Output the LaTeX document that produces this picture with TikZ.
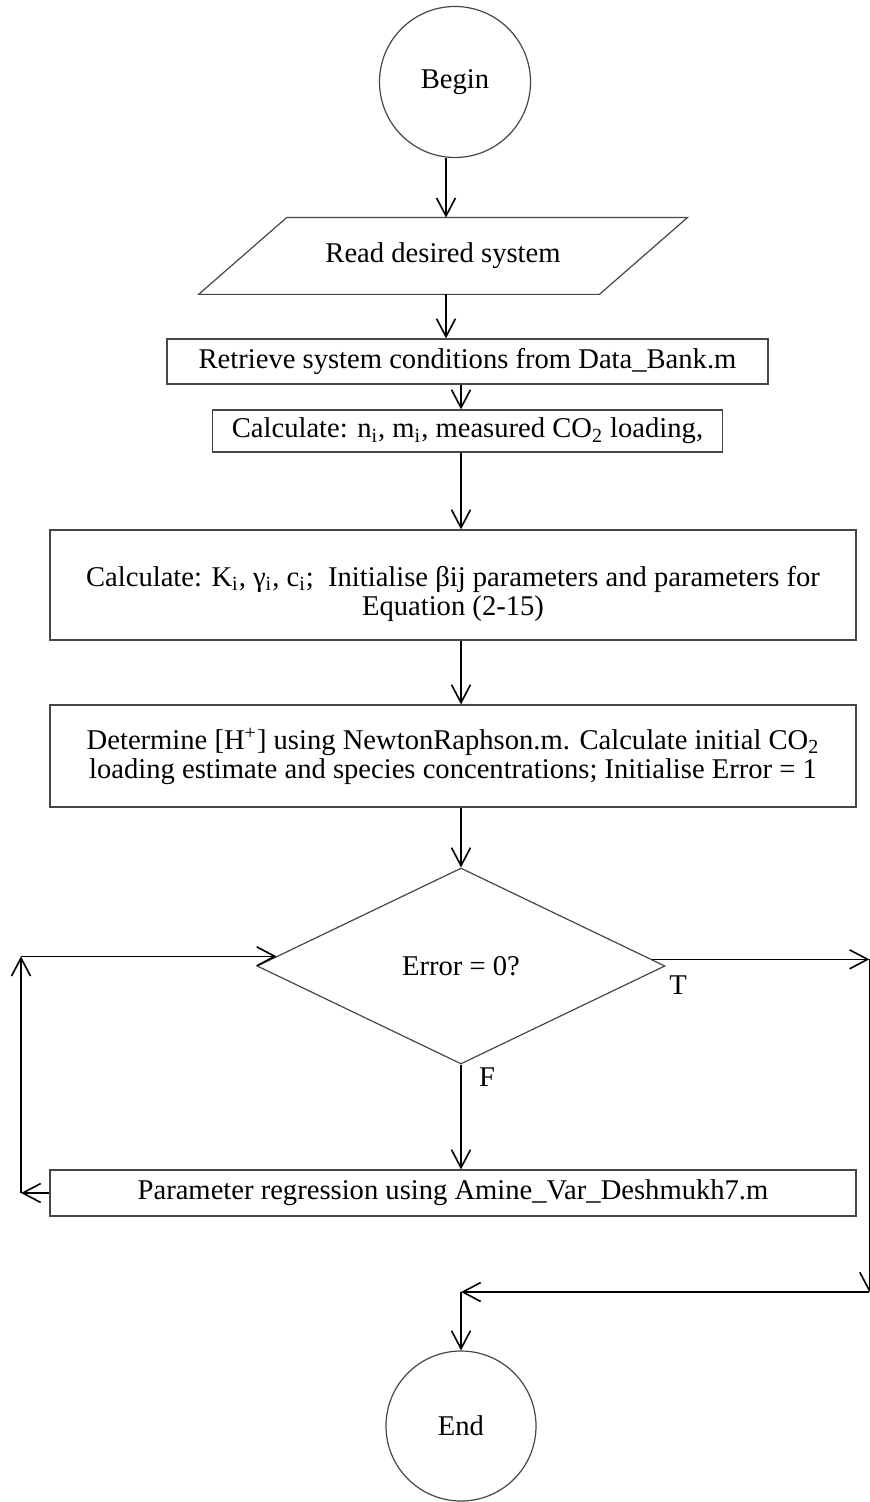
\documentclass[tikz,border=0pt]{standalone}
\usepackage{fontspec}
\setmainfont{Liberation Serif}
\usepackage{tikz}
\usetikzlibrary{shapes.geometric,arrows.meta}
\definecolor{boxline}{RGB}{70,70,70}

\begin{document}
\begin{tikzpicture}[
    x=0.5pt, y=-0.5pt,
    >={Straight Barb[length=9pt, width=9.5pt]},
    font=\fontsize{14.3}{14.3}\selectfont,
    terminal/.style={draw=boxline, circle, line width=0.6pt, inner sep=0pt, minimum size=75.5pt},
    iobody/.style={rectangle, inner sep=0pt, minimum width=200pt, minimum height=38pt},
    process/.style={draw=boxline, rectangle, line width=0.6pt, inner sep=0pt, align=center},
    decision/.style={draw=boxline, diamond, line width=0.6pt, inner sep=0pt, minimum width=204pt, minimum height=98pt},
    outline/.style={draw=boxline, line width=0.6pt},
    arrow/.style={->, line width=0.8pt, black}
]
    \useasboundingbox (0,0) rectangle (870,1502);

    % Main column
    \node[terminal] (begin) at (455,82) {Begin};
    \node[iobody] (read) at (443,256) {Read desired system};
    \draw[outline] ([xshift=-22pt]read.south west) -- ([xshift=22pt]read.north west)
        -- ([xshift=22pt]read.north east) -- ([xshift=-22pt]read.south east) -- cycle;
    \node[process, minimum width=300.5pt, minimum height=22.5pt] (retrieve) at (467.5,361.5) {Retrieve system conditions from Data\_Bank.m};
    \node[process, minimum width=255pt, minimum height=21pt] (calc) at (467.5,431) {Calculate: n\textsubscript{i}, m\textsubscript{i}, measured CO\textsubscript{2} loading,};
    \node[process, minimum width=403pt, minimum height=55pt] (init) at (453,585) {\rule{0pt}{19pt}Calculate: K\textsubscript{i}, γ\textsubscript{i}, c\textsubscript{i};\ \ Initialise βij parameters and parameters for\\Equation (2-15)};
    \node[process, minimum width=403pt, minimum height=51pt] (newton) at (453,756) {Determine [H\textsuperscript{+}] using NewtonRaphson.m. Calculate initial CO\textsubscript{2}\\loading estimate and species concentrations; Initialise Error = 1};
    \node[decision] (check) at (461,966) {Error = 0?};
    \node[process, minimum width=403pt, minimum height=23pt] (regress) at (453,1193) {Parameter regression using Amine\_Var\_Deshmukh7.m};
    \node[terminal, minimum size=75pt] (finish) at (461,1426) {End};

    \node (tlabel) at (678,985) {T};
    \node (flabel) at (487,1077) {F};

    % Loop corners
    \coordinate (edgeL) at (21,0);
    \coordinate (edgeR) at (869.3,0);
    \coordinate (ltop) at (check.177.6 -| edgeL);
    \coordinate (lbot) at (regress.west -| edgeL);
    \coordinate (rtop) at (check.2.4 -| edgeR);
    \coordinate (rbot) at (869.3,1292);
    \coordinate (merge) at (461,1292);

    % Forward flow
    \draw[arrow] (begin.south -| 446,0) -- (read.north -| 446,0);
    \draw[arrow] (read.south -| 446,0) -- (retrieve.north -| 446,0);
    \draw[arrow] (retrieve.south -| check) -- (calc.north -| check);
    \draw[arrow] (calc.south -| check) -- (init.north -| check);
    \draw[arrow] (init.south -| check) -- (newton.north -| check);
    \draw[arrow] (newton.south -| check) -- (check.north);
    \draw[arrow] (check.south) -- (regress.north -| check);

    % Regression loop back to the test
    \draw[arrow] (regress.west) -- (lbot);
    \draw[arrow] (lbot) -- (ltop);
    \draw[arrow] (ltop) -- (check.177.6);

    % Exit on true
    \draw[arrow] (check.2.4) -- (rtop);
    \draw[arrow] (rtop) -- (rbot);
    \draw[arrow] (rbot) -- (merge);
    \draw[arrow] (merge) -- (finish);
\end{tikzpicture}
\end{document}
